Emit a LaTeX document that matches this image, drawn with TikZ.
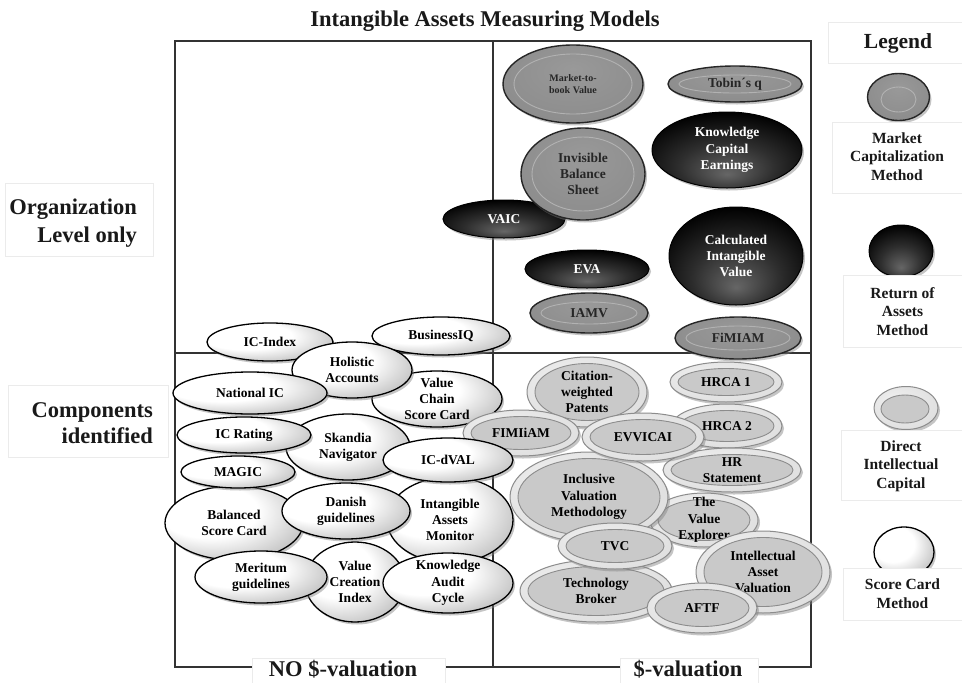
\documentclass[tikz,border=0pt]{standalone}
\usepackage{fontspec}
\setmainfont{Liberation Serif}
\usetikzlibrary{shapes.geometric,shadows}
\pgfdeclareradialshading{scshade}{\pgfpoint{-14bp}{12bp}}{color(0bp)=(white); color(18bp)=(white); color(36bp)=(black!28); color(54bp)=(black!62)}
\pgfdeclareradialshading{mcshade}{\pgfpoint{0bp}{10bp}}{color(0bp)=(black!40); color(30bp)=(black!45); color(44bp)=(black!52); color(54bp)=(black!72)}
\pgfdeclareradialshading{rashade}{\pgfpoint{0bp}{-16bp}}{color(0bp)=(black!60); color(16bp)=(black!82); color(32bp)=(black); color(54bp)=(black)}
\pgfdeclareradialshading{dicshade}{\pgfpoint{-10bp}{10bp}}{color(0bp)=(black!6); color(40bp)=(black!14); color(54bp)=(black!42)}
\newcommand\labfont{\bfseries\fontsize{13.5}{16.3}\selectfont}
\newcommand\bigfont{\bfseries\fontsize{22.5}{28}\selectfont}
\newcommand\legfont{\bfseries\fontsize{15.5}{18.5}\selectfont}
\def\scix{0}\def\sciy{0}
\def\raix{0}\def\raiy{0}
\def\mcix{11}\def\mciy{9}
\def\dicix{8}\def\diciy{6.5}
\tikzset{
  shad/.style={drop shadow={opacity=0.45, shadow xshift=2pt, shadow yshift=-2.5pt}},
  scbase/.style={ellipse, inner sep=0pt, draw=black, line width=1.3pt, shade, shading=scshade, shad},
  scring/.style={ellipse, inner sep=0pt},
  sctext/.style={font=\labfont, text=black, align=center, inner sep=0pt},
  mcbase/.style={ellipse, inner sep=0pt, draw=black!85, line width=1.4pt, shade, shading=mcshade, shad},
  mcring/.style={ellipse, inner sep=0pt, draw=black!30, line width=0.9pt},
  mctext/.style={font=\labfont, text=black!85, align=center, inner sep=0pt},
  rabase/.style={ellipse, inner sep=0pt, draw=black, line width=1pt, shade, shading=rashade, shad},
  raring/.style={ellipse, inner sep=0pt},
  ratext/.style={font=\labfont, text=white, align=center, inner sep=0pt},
  dicbase/.style={ellipse, inner sep=0pt, draw=black!45, line width=1pt, shade, shading=dicshade, shad},
  dicring/.style={ellipse, inner sep=0pt, draw=black!45, line width=0.9pt, fill=black!21},
  dictext/.style={font=\labfont, text=black, align=center, inner sep=0pt},
  frame/.style={draw=black!80, line width=2.6pt},
  faint/.style={draw=black!8, line width=0.8pt, fill=white},
  bigtext/.style={font=\bigfont, text=black!90, inner sep=0pt},
  legtext/.style={font=\legfont, text=black!90, align=center, inner sep=0pt}
}
\newcommand\iamblob[8][]{%
  \node[#7base, minimum width={2*#5pt}, minimum height={2*#6pt}] (#2) at (#3,#4) {};
  \node[#7ring, minimum width={2*#5pt-2*\csname #7ix\endcsname pt}, minimum height={2*#6pt-2*\csname #7iy\endcsname pt}] (#2-r) at (#2.center) {};
  \node[#7text, #1] (#2-t) at (#2.center) {#8};
}
\begin{document}
\begin{tikzpicture}[x=1pt,y=-1pt]
\useasboundingbox[fill=white] (0,0) rectangle (962,683);
% frame
\coordinate (tl) at (175,41);
\coordinate (br) at (811,667);
\draw[frame] (tl) rectangle (br);
\coordinate (vt) at (493,41);
\coordinate (vb) at (493,667);
\coordinate (hl) at (175,353);
\coordinate (hr) at (811,353);
\draw[frame] (vt) -- (vb);
\draw[frame] (hl) -- (hr);
% title and axis labels
\node[bigtext, anchor=base] (title) at (485,26) {Intangible Assets Measuring Models};
\node[faint, minimum width=148pt, minimum height=73pt] (orgbox) at (79,219.5) {};
\node[bigtext, anchor=base east, align=right] (org) at (137,242) {Organization\\Level only};
\node[faint, minimum width=160pt, minimum height=72pt] (compbox) at (88,421) {};
\node[bigtext, anchor=base east, align=right, font=\bfseries\fontsize{22.5}{26}\selectfont] (comp) at (153,443) {Components\\identified};
\node[faint, minimum width=193pt, minimum height=30pt, anchor=north] (nobox) at (348.5,658) {};
\node[bigtext, anchor=base] (nov) at (343,676) {NO \$-valuation};
\node[faint, minimum width=138pt, minimum height=30pt, anchor=north] (yesbox) at (689,658) {};
\node[bigtext, anchor=base] (yesv) at (688,676) {\$-valuation};
% top-right quadrant
\iamblob[font=\bfseries\fontsize{10}{11.5}\selectfont]{mtb}{573}{84}{70}{39}{mc}{Market-to-\\book Value}
\iamblob{tobin}{735}{84}{67}{18}{mc}{Tobin´s q}
\iamblob{kce}{727}{150}{75}{38}{ra}{Knowledge\\Capital\\Earnings}
\iamblob{vaic}{504}{219}{61}{19}{ra}{VAIC}
\iamblob{ibs}{583}{174}{62}{46}{mc}{Invisible\\Balance\\Sheet}
\iamblob{civ}{736}{256}{67}{49}{ra}{Calculated\\Intangible\\Value}
\iamblob{eva}{587}{269}{62}{19}{ra}{EVA}
\iamblob{iamv}{589}{313}{59}{20}{mc}{IAMV}
\iamblob{fimiam}{738}{338}{63}{21}{mc}{FiMIAM}
% bottom-left, first group
\iamblob{icindex}{270}{342}{63}{19}{sc}{IC-Index}
\iamblob{biq}{441}{336}{69}{19}{sc}{BusinessIQ}
\iamblob{skandia}{348}{447}{62}{33}{sc}{Skandia\\Navigator}
\iamblob{vcsc}{437}{399}{65}{28}{sc}{Value\\Chain\\Score Card}
\iamblob{holistic}{352}{370}{60}{28}{sc}{Holistic\\Accounts}
\iamblob{natic}{250}{393}{77}{21}{sc}{National IC}
\iamblob{icrating}{244}{435}{67}{18}{sc}{IC Rating}
% bottom-right
\iamblob{cwp}{587}{392}{60}{35}{dic}{Citation-\\weighted\\Patents}
\iamblob{hrca1}{726}{382}{56}{20}{dic}{HRCA 1}
\iamblob{hrca2}{727}{426}{55}{22}{dic}{HRCA 2}
\iamblob{hrst}{732}{470}{69}{22}{dic}{HR\\Statement}
\iamblob{tve}{704}{520}{54}{27}{dic}{The\\Value\\Explorer}
\iamblob{ivm}{589}{497}{79}{45}{dic}{Inclusive\\Valuation\\Methodology}
\iamblob{fimiiam}{521}{433}{58}{23}{dic}{FIMIiAM}
\iamblob{evvicai}{643}{437}{61}{24}{dic}{EVVICAI}
\iamblob{iav}{763}{572}{67}{41}{dic}{Intellectual\\Asset\\Valuation}
\iamblob{tb}{596}{591}{76}{31}{dic}{Technology\\Broker}
\iamblob{tvc}{615}{546}{57}{23}{dic}{TVC}
\iamblob{aftf}{702}{608}{55}{25}{dic}{AFTF}
% bottom-left, second group
\iamblob{bsc}{234}{523}{69}{37}{sc}{Balanced\\Score Card}
\iamblob{magic}{238}{472}{57}{16}{sc}{MAGIC}
\iamblob{iam}{450}{520}{63}{43}{sc}{Intangible\\Assets\\Monitor}
\iamblob{icdval}{448}{460}{65}{22}{sc}{IC-dVAL}
\iamblob{danish}{346}{511}{64}{28}{sc}{Danish\\guidelines}
\iamblob{vci}{355}{582}{50}{40}{sc}{Value\\Creation\\Index}
\iamblob{meritum}{261}{577}{66}{26}{sc}{Meritum\\guidelines}
\iamblob{kac}{448}{583}{65}{30}{sc}{Knowledge\\Audit\\Cycle}
% legend
\node[faint, minimum width=136pt, minimum height=41pt] (legbox) at (896,42.5) {};
\node[font=\bfseries\fontsize{21.5}{24}\selectfont, text=black!90, anchor=base, inner sep=0pt] (legt) at (898,48) {Legend};
\node[mcbase, minimum width=62pt, minimum height=47pt] (lmc) at (898.5,97) {};
\node[mcring, minimum width=35pt, minimum height=25pt] (lmc-r) at (898.5,99.5) {};
\node[faint, minimum width=131pt, minimum height=71pt] (lmcbox) at (897.5,157.5) {};
\node[legtext, anchor=base] (lmct) at (897,180) {Market\\Capitalization\\Method};
\node[rabase, minimum width=64pt, minimum height=52pt] (lra) at (901,251) {};
\node[faint, minimum width=121pt, minimum height=72pt] (lrabox) at (903.5,311) {};
\node[legtext, anchor=base] (lrat) at (902.5,335) {Return of\\Assets\\Method};
\node[dicbase, minimum width=64pt, minimum height=43pt] (ldic) at (906,408) {};
\node[dicring, minimum width=48pt, minimum height=28pt] (ldic-r) at (905,409) {};
\node[faint, minimum width=123pt, minimum height=70pt] (ldicbox) at (902.5,465) {};
\node[legtext, anchor=base] (ldict) at (901,488) {Direct\\Intellectual\\Capital};
\node[scbase, minimum width=60pt, minimum height=50pt] (lsc) at (904,552) {};
\node[faint, minimum width=121pt, minimum height=52pt] (lscbox) at (903.5,594) {};
\node[legtext, anchor=base] (lsct) at (902.5,608) {Score Card\\Method};
\end{tikzpicture}
\end{document}
